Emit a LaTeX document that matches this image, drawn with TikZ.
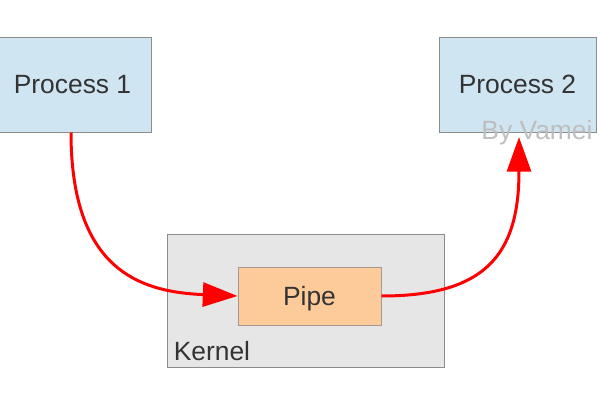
\documentclass[tikz,border=0pt]{standalone}
\usepackage{fontspec}
\setmainfont{Liberation Sans}
\usetikzlibrary{arrows.meta}

\definecolor{procblue}{RGB}{207,229,242}
\definecolor{kernelgray}{RGB}{230,230,230}
\definecolor{pipeorange}{RGB}{253,203,153}
\definecolor{edgegray}{RGB}{140,140,140}
\definecolor{textgray}{RGB}{51,51,51}
\definecolor{markgray}{RGB}{190,190,190}

\begin{document}
\begin{tikzpicture}[x=0.75pt,y=0.75pt,yscale=-1,xscale=1,
  box/.style={draw=edgegray, line width=0.75pt, inner sep=0pt, text=textgray, text height=18pt, text depth=4pt, font=\fontsize{19.8}{23}\selectfont},
  process/.style={box, fill=procblue, minimum width=117.75pt, minimum height=71.25pt},
  flow/.style={draw=red, line width=2.25pt, -{Triangle[length=26pt,width=18pt]}}]
\useasboundingbox (0,0) rectangle (600,400);

% Process boxes
\draw (72.5,84.5) node [process] (proc1) {Process 1};
\draw (517.5,84.5) node [process] (proc2) {Process 2};
% Watermark
\draw (537,133) node [text=markgray, inner sep=0pt, font=\fontsize{19.8}{23}\selectfont] (vamei) {By Vamei};

% Kernel and pipe
\draw (305.5,300.5) node [box, fill=kernelgray, minimum width=207.75pt, minimum height=99.75pt] (kernel) {};
\draw (kernel.south west) ++(7,-6) node [anchor=south west, inner sep=0pt, text=textgray, font=\fontsize{19.8}{23}\selectfont] (kernlabel) {Kernel};
\draw (309.5,296) node [box, fill=pipeorange, draw=edgegray!80!pipeorange, minimum width=107.25pt, minimum height=43.5pt] (pipe) {Pipe};

% Flows
\coordinate (p2in) at (519,137);
\draw [flow] (proc1.south -| 71,0) .. controls (71,270) and (140,292) .. (pipe.west);
\draw [flow] (pipe.east) .. controls (485,296) and (519,255) .. (p2in);

\end{tikzpicture}
\end{document}
